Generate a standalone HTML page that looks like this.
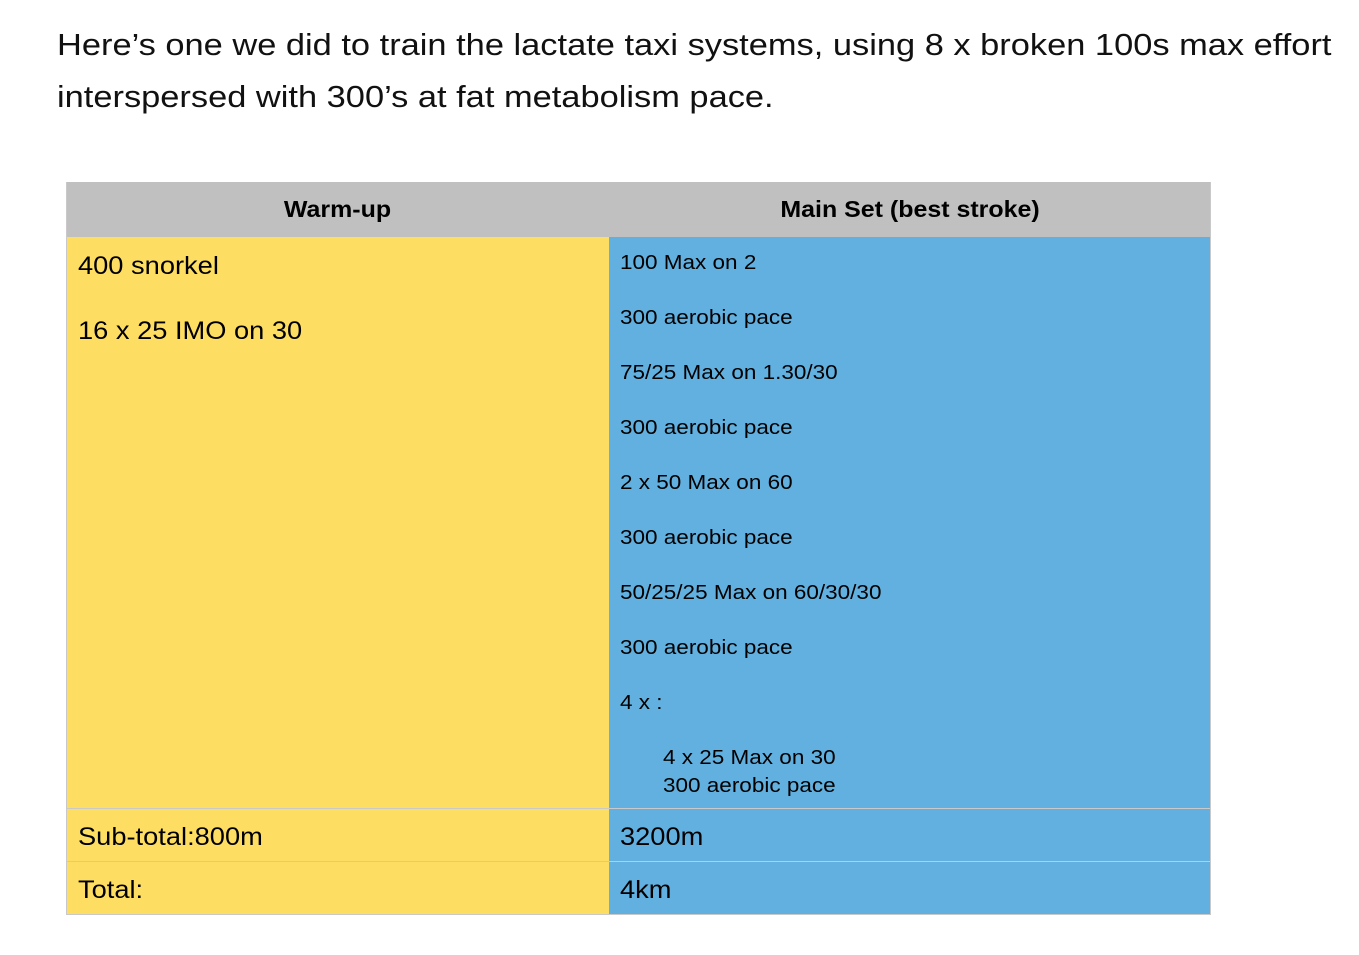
<!DOCTYPE html>
<html><head><style>
body{margin:0;width:1359px;height:955px;background:#fff;position:relative;font-family:"Liberation Sans",sans-serif;color:#000;overflow:hidden}
.a{position:absolute;white-space:nowrap;transform-origin:0 0}
.p{font-size:31px;left:57px;color:#111;transform:scaleX(1.11)}
.c{position:absolute}
.s{font-size:20px;left:620px;transform:scaleX(1.125)}
.l{font-size:25px;left:78px;transform:scaleX(1.09)}
.h{font-size:23px;font-weight:bold;text-align:center;top:196px;transform:scaleX(1.085);transform-origin:50% 0}
</style></head><body>
<div class="a p" style="top:27px">Here’s one we did to train the lactate taxi systems, using 8 x broken 100s max effort</div>
<div class="a p" style="top:79px">interspersed with 300’s at fat metabolism pace.</div>

<div class="c" style="left:66px;top:182px;width:1145px;height:55px;background:#bfc0bf;border-bottom:1px solid #888"></div>
<div class="c" style="left:66px;top:237px;width:543px;height:677px;background:#fede62"></div>
<div class="c" style="left:609px;top:237px;width:602px;height:677px;background:#62b0df"></div>
<div class="c" style="left:66px;top:808px;width:1145px;height:1px;background:#c9c9c9"></div>
<div class="c" style="left:66px;top:861px;width:1145px;height:1px;background:#c9c9c9"></div>
<div class="c" style="left:66px;top:914px;width:1145px;height:1px;background:#c9c9c9"></div>
<div class="c" style="left:66px;top:182px;width:1px;height:732px;background:#c9c9c9"></div>
<div class="c" style="left:1210px;top:182px;width:1px;height:732px;background:#c9c9c9"></div>

<div class="a h" style="left:66px;width:543px">Warm-up</div>
<div class="a h" style="left:609px;width:602px">Main Set (best stroke)</div>

<div class="a l" style="top:252px">400 snorkel</div>
<div class="a l" style="top:317px">16 x 25 IMO on 30</div>
<div class="a l" style="top:823px">Sub-total:800m</div>
<div class="a l" style="top:876px">Total:</div>

<div class="a s" style="top:252px">100 Max on 2</div>
<div class="a s" style="top:307px">300 aerobic pace</div>
<div class="a s" style="top:362px">75/25 Max on 1.30/30</div>
<div class="a s" style="top:417px">300 aerobic pace</div>
<div class="a s" style="top:472px">2 x 50 Max on 60</div>
<div class="a s" style="top:527px">300 aerobic pace</div>
<div class="a s" style="top:582px">50/25/25 Max on 60/30/30</div>
<div class="a s" style="top:637px">300 aerobic pace</div>
<div class="a s" style="top:692px">4 x :</div>
<div class="a s" style="top:747px;left:663px">4 x 25 Max on 30</div>
<div class="a s" style="top:775px;left:663px">300 aerobic pace</div>
<div class="a l" style="left:620px;top:823px">3200m</div>
<div class="a l" style="left:620px;top:876px">4km</div>
</body></html>
